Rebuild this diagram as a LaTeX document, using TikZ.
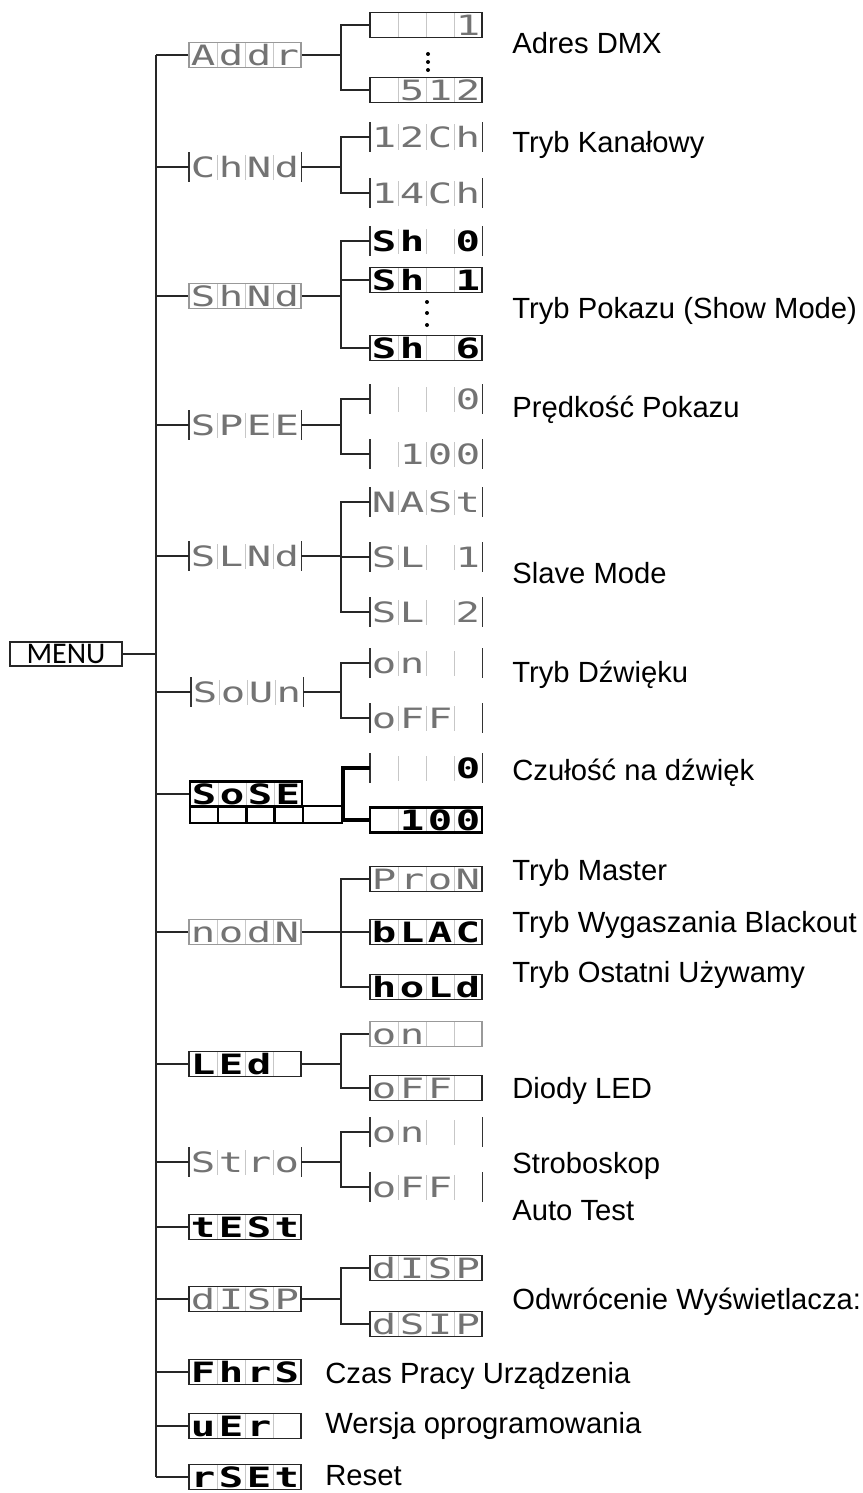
\documentclass[tikz,border=0pt]{standalone}
\usepackage{fontspec}
\setmainfont{Liberation Sans}
\newfontfamily\lcdfont[FakeStretch=1.45]{DejaVu Sans Mono}
\newfontfamily\menufont{Carlito}
\usetikzlibrary{positioning, calc}
\newcommand\lcd[4]{\makebox[14pt]{#1}\makebox[14pt]{#2}\makebox[14pt]{#3}\makebox[14pt]{#4}}
\tikzset{
	disp/.style={rectangle, inner sep=0pt, minimum width=56pt, minimum height=12.5pt, text height=10.2pt, text depth=0pt, text=black!55, font=\lcdfont\fontsize{14}{14}\selectfont, path picture={\foreach \k in {1,2,3} \draw[black!22, line width=0.5pt] ($(path picture bounding box.south west)!\k/4!(path picture bounding box.south east)$) -- ($(path picture bounding box.north west)!\k/4!(path picture bounding box.north east)$);}},
	boldisp/.style={disp, text=black, font=\lcdfont\bfseries\fontsize{14}{14}\selectfont},
	framed/.style={draw=black!85, line width=0.8pt},
	grayframe/.style={draw=black!40, line width=0.8pt},
	thickframe/.style={draw=black, line width=1.3pt},
	sidebar/.style={draw=black!80, line width=0.9pt},
	barred/.style={append after command={([yshift=1pt]\tikzlastnode.north west) edge[sidebar] ([yshift=-1pt]\tikzlastnode.south west) ([yshift=1pt]\tikzlastnode.north east) edge[sidebar] ([yshift=-1pt]\tikzlastnode.south east)}},
	cellrow/.style={rectangle, inner sep=0pt, minimum width=76pt, minimum height=8.5pt, draw=black, line width=1.2pt, path picture={\foreach \k in {1,...,4} \draw[line width=1.2pt] ([xshift=\k*14.1pt]path picture bounding box.south west) -- ([xshift=\k*14.1pt]path picture bounding box.north west);}},
	menubox/.style={rectangle, draw=black!85, line width=0.9pt, inner sep=0pt, minimum width=56pt, minimum height=12pt, font=\menufont\fontsize{15}{15}\selectfont},
	link/.style={draw=black!85, line width=0.9pt},
	boldlink/.style={draw=black, line width=1.6pt},
	note/.style={anchor=base west, inner sep=0pt, font=\fontsize{14.6}{16}\selectfont},
}

\begin{document}
\begin{tikzpicture}[x=0.5pt, y=-0.5pt]
	\useasboundingbox (0,0) rectangle (862,1493);
	\coordinate (trunk) at (156,0);
	\coordinate (fork) at (341,0);
	\coordinate (sfork) at (343,0);
	\node[menubox] (menu) at (66,654) {MENU};
	\node[disp, grayframe] (addr) at (245,55) {\lcd Addr};
	\node[disp, barred] (chnd) at (245,167) {\lcd ChNd};
	\node[disp, grayframe] (shnd) at (245,296) {\lcd ShNd};
	\node[disp, barred] (spee) at (245,425) {\lcd SPEE};
	\node[disp, barred] (slnd) at (245,556) {\lcd SLNd};
	\node[disp, barred] (soun) at (247,692) {\lcd SoUn};
	\node[boldisp, thickframe] (sose) at (246,794) {\lcd SoSE};
	\node[cellrow] (sosecells) at (266,814.5) {};
	\node[disp, grayframe] (nodn) at (245,932) {\lcd nodN};
	\node[boldisp, framed] (led) at (245,1064) {\lcd LEd{}};
	\node[disp, barred] (stro) at (245,1162) {\lcd Stro};
	\node[boldisp, framed] (test) at (245,1227) {\lcd tESt};
	\node[disp, framed] (dsp) at (245,1299) {\lcd dISP};
	\node[boldisp, framed] (fhrs) at (245,1372) {\lcd FhrS};
	\node[boldisp, framed] (uer) at (245,1426) {\lcd uEr{}};
	\node[boldisp, framed] (rset) at (245,1477) {\lcd rSEt};

	\node[disp, framed] (addrA) at (426,25) {\lcd{}{}{}1};
	\node[disp, framed] (addrB) at (426,90) {\lcd{}512};
	\node[disp, barred] (chndA) at (426,137) {\lcd 12Ch};
	\node[disp, barred] (chndB) at (426,193) {\lcd 14Ch};
	\node[boldisp, barred] (shndA) at (426,241) {\lcd Sh{}0};
	\node[boldisp, framed] (shndB) at (426,280) {\lcd Sh{}1};
	\node[boldisp, framed] (shndC) at (426,348) {\lcd Sh{}6};
	\node[disp, barred] (speeA) at (426,399) {\lcd{}{}{}0};
	\node[disp, barred] (speeB) at (426,454) {\lcd{}100};
	\node[disp, barred] (slndA) at (426,502) {\lcd NASt};
	\node[disp, barred] (slndB) at (426,557) {\lcd SL{}1};
	\node[disp, barred] (slndC) at (426,612) {\lcd SL{}2};
	\node[disp, barred] (sounA) at (426,663) {\lcd on{}{}};
	\node[disp, barred] (sounB) at (426,718) {\lcd oFF{}};
	\node[boldisp, barred] (soseA) at (426,768) {\lcd{}{}{}0};
	\node[boldisp, thickframe] (soseB) at (426,820) {\lcd{}100};
	\node[disp, framed] (nodnA) at (426,879) {\lcd ProN};
	\node[boldisp, framed] (nodnB) at (426,932) {\lcd bLAC};
	\node[boldisp, framed] (nodnC) at (426,987) {\lcd hoLd};
	\node[disp, grayframe] (ledA) at (426,1034) {\lcd on{}{}};
	\node[disp, framed] (ledB) at (426,1088) {\lcd oFF{}};
	\node[disp, barred] (stroA) at (426,1132) {\lcd on{}{}};
	\node[disp, barred] (stroB) at (426,1187) {\lcd oFF{}};
	\node[disp, framed] (dspA) at (426,1268) {\lcd dISP};
	\node[disp, framed] (dspB) at (426,1324) {\lcd dSIP};

	\foreach \y in {54,62,70} \fill (428,\y) circle (2);
	\foreach \y in {302,313,325} \fill (427,\y) circle (2);

	\draw[link] (menu.east) -- (menu.east -| trunk);
	\draw[link] (addr.west -| trunk) -- (rset.west -| trunk);
	\foreach \n in {addr,chnd,shnd,spee,slnd,soun,sose,nodn,led,stro,test,dsp,fhrs,uer,rset}
		\draw[link] (\n.west) -- (\n.west -| trunk);
	\foreach \p/\a/\b in {addr/addrA/addrB, chnd/chndA/chndB, shnd/shndA/shndC, spee/speeA/speeB, slnd/slndA/slndC, soun/sounA/sounB, nodn/nodnA/nodnC, led/ledA/ledB, stro/stroA/stroB, dsp/dspA/dspB} {
		\draw[link] (\p.east) -- (\p.east -| fork);
		\draw[link] (\a.west) -- (\a.west -| fork) -- (\b.west -| fork) -- (\b.west);
	}
	\foreach \m in {shndB, slndB, nodnB}
		\draw[link] (\m.west) -- (\m.west -| fork);
	\draw[boldlink] (soseA.west) -- (soseA.west -| sfork) -- (soseB.west -| sfork) -- (soseB.west);

	\node[note] (tAddr) at (512,54) {Adres DMX};
	\node[note] (tChnd) at (512,153) {Tryb Kanałowy};
	\node[note] (tShnd) at (512,318) {Tryb Pokazu (Show Mode)};
	\node[note] (tSpee) at (512,417) {Prędkość Pokazu};
	\node[note] (tSlnd) at (512,583) {Slave Mode};
	\node[note] (tSoun) at (512,682) {Tryb Dźwięku};
	\node[note] (tSose) at (512,780) {Czułość na dźwięk};
	\node[note] (tMaster) at (512,880) {Tryb Master};
	\node[note] (tBlack) at (512,932) {Tryb Wygaszania Blackout};
	\node[note] (tHold) at (512,982) {Tryb Ostatni Używamy};
	\node[note] (tLed) at (512,1098) {Diody LED};
	\node[note] (tStro) at (512,1173) {Stroboskop};
	\node[note] (tTest) at (512,1220) {Auto Test};
	\node[note] (tDsp) at (512,1309) {Odwrócenie Wyświetlacza:};
	\node[note] (tFhrs) at (325,1383) {Czas Pracy Urządzenia};
	\node[note] (tUer) at (325,1433) {Wersja oprogramowania};
	\node[note] (tRset) at (325,1485) {Reset};
\end{tikzpicture}
\end{document}
